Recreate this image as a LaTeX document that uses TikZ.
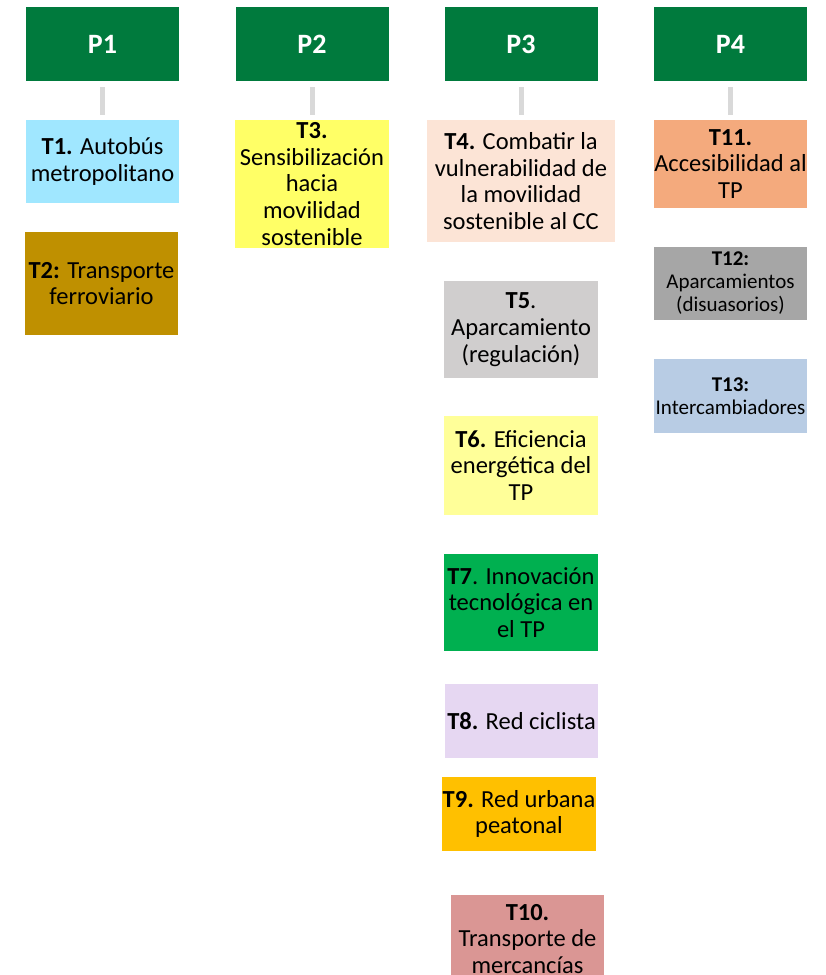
\documentclass[tikz,border=0pt]{standalone}
\usepackage{fontspec}
\setmainfont{Carlito}
\definecolor{pgreen}{RGB}{0,122,61}
\definecolor{cT1}{RGB}{160,231,255}
\definecolor{cT2}{RGB}{191,144,0}
\definecolor{cT3}{RGB}{255,255,102}
\definecolor{cT4}{RGB}{252,228,214}
\definecolor{cT5}{RGB}{208,206,206}
\definecolor{cT6}{RGB}{255,255,153}
\definecolor{cT7}{RGB}{0,176,80}
\definecolor{cT8}{RGB}{230,215,242}
\definecolor{cT9}{RGB}{255,192,0}
\definecolor{cT10}{RGB}{218,150,148}
\definecolor{cT11}{RGB}{244,170,125}
\definecolor{cT12}{RGB}{166,166,166}
\definecolor{cT13}{RGB}{184,204,228}
\definecolor{conn}{RGB}{217,217,217}
\tikzset{
  pbox/.style={fill=pgreen, text=white, font=\fontsize{28}{30}\selectfont\bfseries, inner sep=0pt, minimum width=153pt, minimum height=74pt},
  tbox/.style={inner sep=0pt, align=center, font=\fontsize{24.5}{26.8}\selectfont, text=black},
  sbox/.style={inner sep=0pt, align=center, font=\fontsize{21}{23}\selectfont, text=black},
  conline/.style={draw=conn, line width=5pt, shorten <=6pt, shorten >=5pt}
}
\begin{document}
\begin{tikzpicture}[x=1pt,y=-1pt]
\useasboundingbox (0,0) rectangle (826,975);
\clip (0,0) rectangle (826,975);
% P headers
\node[pbox] (P1) at (102.5,44) {P1};
\node[pbox] (P2) at (312,44) {P2};
\node[pbox] (P3) at (521,44) {P3};
\node[pbox] (P4) at (730.5,44) {P4};
% T boxes
\node[tbox, fill=cT1, minimum width=153pt, minimum height=83pt] (T1) at (102.5,161.5) {};
\node[tbox] (T1t) at (T1.center) {\textbf{T1.} Autobús\\metropolitano};
\node[tbox, fill=cT2, minimum width=153pt, minimum height=103pt] (T2) at (101.5,283.5) {};
\node[tbox] (T2t) at (T2.center) {\textbf{T2:} Transporte\\ferroviario};
\node[tbox, fill=cT3, minimum width=154pt, minimum height=128pt] (T3) at (312,184) {};
\node[tbox] (T3t) at (T3.center) {\textbf{T3.}\\Sensibilización\\hacia\\movilidad\\sostenible};
\node[tbox, fill=cT4, minimum width=188pt, minimum height=122pt] (T4) at (521,181) {};
\node[tbox] (T4t) at (T4.center) {\textbf{T4.} Combatir la\\vulnerabilidad de\\la movilidad\\sostenible al CC};
\node[tbox, fill=cT5, minimum width=154pt, minimum height=97pt] (T5) at (521,329.5) {};
\node[tbox] (T5t) at (T5.center) {\textbf{T5}.\\Aparcamiento\\(regulación)};
\node[tbox, fill=cT6, minimum width=154pt, minimum height=99pt] (T6) at (521,465.5) {};
\node[tbox] (T6t) at (T6.center) {\textbf{T6.} Eficiencia\\energética del\\TP};
\node[tbox, fill=cT7, minimum width=154pt, minimum height=97pt] (T7) at (521,602.5) {};
\node[tbox] (T7t) at (T7.center) {\textbf{T7}. Innovación\\tecnológica en\\el TP};
\node[tbox, fill=cT8, minimum width=153pt, minimum height=74pt] (T8) at (521.5,721) {};
\node[tbox] (T8t) at (T8.center) {\textbf{T8.} Red ciclista};
\node[tbox, fill=cT9, minimum width=154pt, minimum height=74pt] (T9) at (519,814) {};
\node[tbox] (T9t) at (T9.center) {\textbf{T9.} Red urbana\\peatonal};
\node[tbox, fill=cT10, minimum width=153pt, minimum height=90pt] (T10) at (527.5,940) {};
\node[tbox] (T10t) at (527.5,939) {\textbf{T10.}\\Transporte de\\mercancías};
\node[tbox, fill=cT11, minimum width=153pt, minimum height=88pt] (T11) at (730.5,164) {};
\node[tbox] (T11t) at (T11.center) {\textbf{T11.}\\Accesibilidad al\\TP};
\node[sbox, fill=cT12, minimum width=153pt, minimum height=73pt] (T12) at (730.5,283.5) {};
\node[sbox] (T12t) at (T12.center) {\textbf{T12:}\\Aparcamientos\\(disuasorios)};
\node[sbox, fill=cT13, minimum width=153pt, minimum height=74pt] (T13) at (730.5,396) {};
\node[sbox] (T13t) at (T13.center) {\textbf{T13:}\\Intercambiadores};
% connectors
\draw[conline] (P1.south) -- (T1.north);
\draw[conline] (P2.south) -- (T3.north);
\draw[conline] (P3.south) -- (T4.north);
\draw[conline] (P4.south) -- (T11.north);
\end{tikzpicture}
\end{document}
